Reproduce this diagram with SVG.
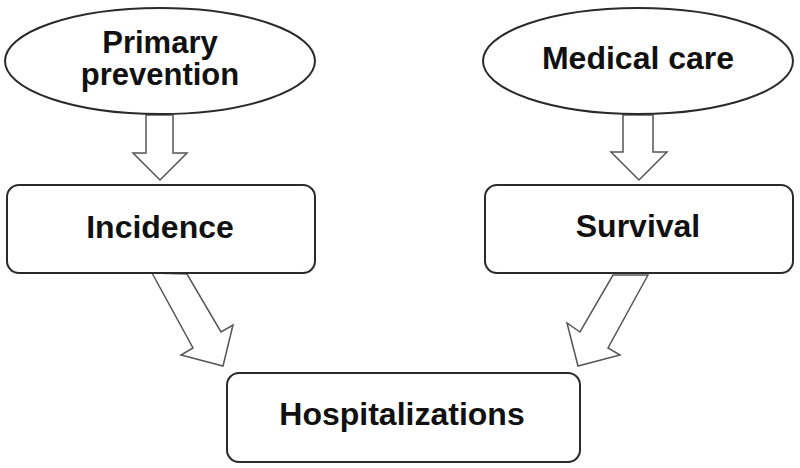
<svg xmlns="http://www.w3.org/2000/svg" width="800" height="468" viewBox="0 0 800 468">
<style>
.node{fill:#fff;stroke:#2a2a2a;stroke-width:2}
.arrow{fill:#fff;stroke:#555;stroke-width:1.5;stroke-linejoin:miter}
.t{font-family:"Liberation Sans",Arial,sans-serif;font-weight:bold;fill:#111;text-anchor:middle;font-size:32px}
</style>
<rect width="800" height="468" fill="#fff"/>
<g id="connectors">
<polygon class="arrow" points="146,115 146,153 133,153 160,180 187,153 173,153 173,115"/>
<polygon class="arrow" points="623,115 623,152 611,152 639,180 667,152 653,152 653,115"/>
<polygon class="arrow" points="152,273 193,348 181,355 223,366 233,325 221,332 187,274"/>
<polygon class="arrow" points="648,275 608,348 620,355 578,366 567,323 580,332 613,275"/>
</g>
<g id="primary-prevention">
<ellipse class="node" cx="160" cy="61" rx="155" ry="53"/>
<text class="t" x="160" y="53" style="font-size:31px">Primary</text>
<text class="t" x="160" y="85" style="font-size:31px">prevention</text>
</g>
<g id="medical-care">
<ellipse class="node" cx="638" cy="61" rx="155" ry="53"/>
<text class="t" x="638" y="69">Medical care</text>
</g>
<g id="incidence">
<rect class="node" x="7" y="185" width="308" height="88" rx="12"/>
<text class="t" x="160" y="238">Incidence</text>
</g>
<g id="survival">
<rect class="node" x="485" y="185" width="308" height="88" rx="12"/>
<text class="t" x="638" y="237">Survival</text>
</g>
<g id="hospitalizations">
<rect class="node" x="227" y="373" width="353" height="89" rx="12"/>
<text class="t" x="402" y="425">Hospitalizations</text>
</g>
</svg>
